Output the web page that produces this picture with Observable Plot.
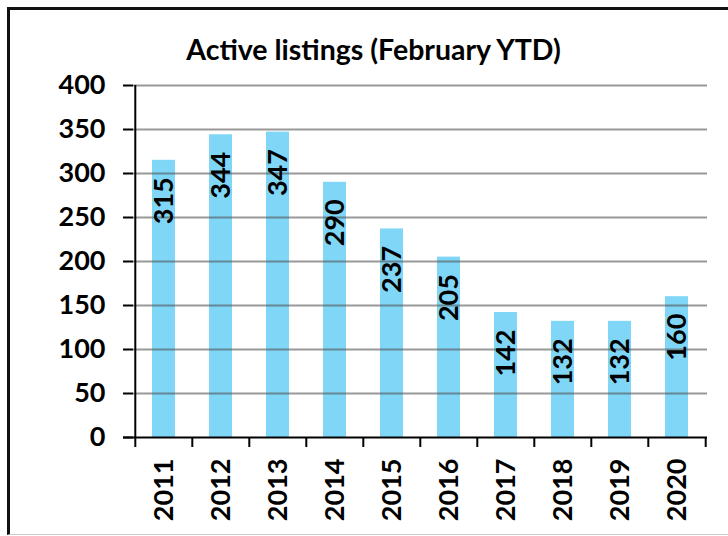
<!DOCTYPE html>
<html>
<head>
<meta charset="utf-8">
<script src="https://cdn.jsdelivr.net/npm/d3@7"></script>
<script src="https://cdn.jsdelivr.net/npm/@observablehq/plot@0.6"></script>
<style>
  html, body { margin: 0; padding: 0; background: #fff; }
  #wrap { position: relative; width: 728px; height: 536px; overflow: hidden; }
  #border { position: absolute; left: 7px; top: 7px; width: 740px; height: 528px;
    border-top: 3px solid #111; border-left: 3px solid #111; border-bottom: 1px solid #ccc;
    box-sizing: border-box; pointer-events: none; }
</style>
</head>
<body>
<div id="wrap"><div id="border"></div></div>
<script>
const years = ["2011","2012","2013","2014","2015","2016","2017","2018","2019","2020"];
const values = [315, 344, 347, 290, 237, 205, 142, 132, 132, 160];
const yTicks = [0, 50, 100, 150, 200, 250, 300, 350, 400];
const titleText = "Active listings (February YTD)";

const data = years.map((year, i) => ({year, value: values[i]}));

const W = 728, H = 536, mL = 133, mR = 21, mT = 85, mB = 99;
const step = (W - mL - mR) / years.length;
const frameH = H - mT - mB;

const chart = Plot.plot({
  width: W, height: H,
  marginLeft: mL, marginRight: mR, marginTop: mT, marginBottom: mB,
  style: {fontFamily: "Lato, 'Open Sans', sans-serif", background: "transparent"},
  x: {domain: years, paddingInner: 0.6, paddingOuter: 0.3, axis: null},
  y: {domain: [0, 400], axis: null},
  marks: [
    Plot.barY(data, {x: "year", y: "value", fill: "#7fd6f6"}),
    Plot.ruleY(yTicks.filter(d => d > 0), {stroke: "#555", strokeOpacity: 0.6, strokeWidth: 2}),
    Plot.axisY({ticks: yTicks, label: null, tickSize: 10, tickPadding: 18, fontSize: 27, fontWeight: "bold",
      stroke: "#000", strokeWidth: 2, fill: "#000", tickFormat: d => String(d)}),
    Plot.ruleX([years[0]], {dx: -step / 2, stroke: "#000", strokeWidth: 2}),
    Plot.ruleY([0], {stroke: "#000", strokeWidth: 2, insetLeft: -10}),
    Plot.ruleX(years, {dx: -step / 2, stroke: "#000", strokeWidth: 2, insetTop: frameH, insetBottom: -10}),
    Plot.ruleX([years[years.length - 1]], {dx: step / 2, stroke: "#000", strokeWidth: 2, insetTop: frameH, insetBottom: -10}),
    Plot.text(data, {x: "year", y: "value", text: d => String(d.value), rotate: -90, textAnchor: "end",
      lineAnchor: "middle", dy: 17, fontSize: 27, fontWeight: "bold", fill: "#000"}),
    Plot.text(years, {x: d => d, frameAnchor: "bottom", rotate: -90, textAnchor: "end",
      lineAnchor: "middle", dy: 21, fontSize: 27, fontWeight: "bold", fill: "#000"}),
    Plot.text([titleText], {frameAnchor: "top-left", dx: 373 - mL, dy: -46, textAnchor: "middle",
      fontSize: 28.5, fontWeight: "bold", fill: "#000", fontFamily: "Lato"})
  ]
});
document.getElementById("wrap").insertBefore(chart, document.getElementById("border"));
</script>
</body>
</html>
